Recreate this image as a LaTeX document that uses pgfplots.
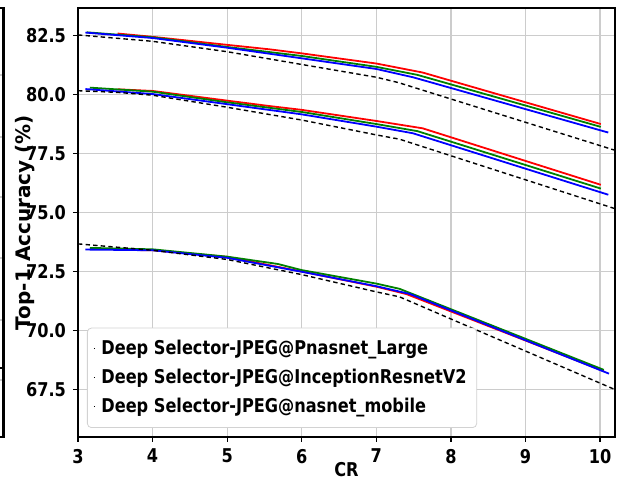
\documentclass[border=0pt]{standalone}
\usepackage{fontspec}
\setmainfont{DejaVu Sans}[FakeStretch=0.85]
\newfontfamily\ylfont{DejaVu Sans}
\usepackage{pgfplots}
\pgfplotsset{compat=1.18}
\usetikzlibrary{calc}

\definecolor{mred}{RGB}{255,0,0}
\definecolor{mgreen}{RGB}{0,128,0}
\definecolor{mblue}{RGB}{0,0,255}

\begin{document}
\begin{tikzpicture}
\begin{axis}[
  name=ax,
  scale only axis,
  width=268.5pt, height=214.5pt,
  xmin=3, xmax=10.2, ymin=65.5, ymax=83.65,
  xtick={3,4,5,6,7,8,9,10},
  ytick={67.5,70,72.5,75,77.5,80,82.5},
  yticklabel style={/pgf/number format/.cd,fixed,fixed zerofill,precision=1},
  /pgf/number format/assume math mode=true,
  tick label style={font=\fontsize{9.5}{11}\selectfont\bfseries},
  xlabel={CR}, ylabel={Top-1 Accuracy (\%)},
  every axis x label/.style={at={(axis description cs:0.5,-0.0769)}, anchor=center,
    font=\fontsize{9.5}{11}\selectfont\bfseries},
  every axis y label/.style={at={(axis description cs:-0.0987,0.5)}, anchor=center, rotate=90,
    font=\ylfont\fontsize{10}{12}\selectfont\bfseries},
  axis line style={line width=1.3pt},
  tick align=outside, major tick length=2.5pt,
  tick style={black, line width=0.6pt},
  xtick pos=bottom, ytick pos=left,
  grid=major, grid style={gray!40, line width=0.6pt},
  legend style={at={(0,0)}, anchor=south west, xshift=4.5pt, yshift=4.5pt,
    draw=gray!35, fill=white, rounded corners=2pt,
    font=\fontsize{9.5}{11}\selectfont\bfseries,
    row sep=1.8pt, inner xsep=3pt, inner ysep=4pt},
  legend cell align=left,
  legend image code/.code={\draw[black, line width=0.5pt, densely dotted] (0pt,0pt) -- (1.5pt,0pt);},
  every axis plot/.append style={line width=0.9pt},
]
% Pnasnet_Large
\addplot[mred, forget plot] coordinates {(3.53,82.57) (4,82.43) (5,82.09) (5.57,81.90) (6,81.73) (7,81.30) (7.62,80.92) (10.01,78.74)};
\addplot[mgreen, forget plot] coordinates {(3.12,82.62) (4,82.41) (5,82.00) (6,81.62) (7,81.16) (7.55,80.82) (10.01,78.62)};
\addplot[mblue, forget plot] coordinates {(3.10,82.61) (4,82.38) (5,81.97) (6,81.52) (7,81.07) (7.49,80.72) (10.11,78.38)};
\addplot[black, dash pattern=on 2.2pt off 1.6pt, line width=0.7pt, forget plot] coordinates {(3.0,82.51) (4,82.24) (5,81.80) (6,81.26) (7,80.72) (7.3,80.49) (10.21,77.62)};
% InceptionResnetV2
\addplot[mred, forget plot] coordinates {(3.53,80.21) (4,80.14) (5,79.73) (5.57,79.50) (6,79.34) (7,78.87) (7.62,78.56) (10.01,76.17)};
\addplot[mgreen, forget plot] coordinates {(3.16,80.28) (4,80.11) (5,79.66) (6,79.25) (7,78.74) (7.55,78.44) (10.01,76.01)};
\addplot[mblue, forget plot] coordinates {(3.10,80.22) (4,80.01) (5,79.58) (6,79.15) (7,78.63) (7.49,78.35) (10.11,75.75)};
\addplot[black, dash pattern=on 2.2pt off 1.6pt, line width=0.7pt, forget plot] coordinates {(3.0,80.15) (3.53,80.08) (4,79.96) (5,79.45) (6,78.91) (7,78.28) (7.31,78.10) (10.21,75.15)};
% nasnet_mobile
\addplot[mred, forget plot] coordinates {(3.53,73.42) (4,73.40) (5,73.12) (6,72.50) (7,71.86) (7.4,71.55) (10.05,68.29)};
\addplot[mgreen, forget plot] coordinates {(3.16,73.50) (4,73.44) (5,73.13) (5.68,72.82) (6,72.56) (7,71.99) (7.31,71.77) (10.05,68.34)};
\addplot[mblue, forget plot] coordinates {(3.10,73.43) (4,73.40) (5,73.08) (6,72.49) (7,71.88) (7.45,71.55) (10.12,68.18)};
\addplot[black, dash pattern=on 2.2pt off 1.6pt, line width=0.7pt, forget plot] coordinates {(3.0,73.67) (4,73.40) (5,73.01) (6,72.37) (7,71.64) (7.31,71.43) (10.19,67.52)};

\addlegendimage{black}
\addlegendentry{Deep Selector-JPEG@Pnasnet\_Large}
\addlegendimage{black}
\addlegendentry{Deep Selector-JPEG@InceptionResnetV2}
\addlegendimage{black}
\addlegendentry{Deep Selector-JPEG@nasnet\_mobile}
\end{axis}
% edge of the neighbouring panel, cut off at the left
\foreach \d in {33.5,64.5,94.5,125,156,186}
  \draw[gray!40, line width=0.6pt] ($(ax.north west)+(-39pt,-\d pt)$) -- ++(1.2pt,0);
\draw[black, line width=0.6pt] ($(ax.north west)+(-39pt,-180pt)$) -- ++(0.9pt,0);
\draw[black, line width=1.1pt] ($(ax.north west)+(-39pt,0)$) -- ++(1.75pt,0)
  -- ($(ax.south west)+(-37.25pt,0)$) -- ++(-1.75pt,0);
\pgfresetboundingbox
\path ($(ax.south west)+(-39pt,-26pt)$) rectangle ($(ax.north east)+(1.5pt,4pt)$);
\end{tikzpicture}
\end{document}
